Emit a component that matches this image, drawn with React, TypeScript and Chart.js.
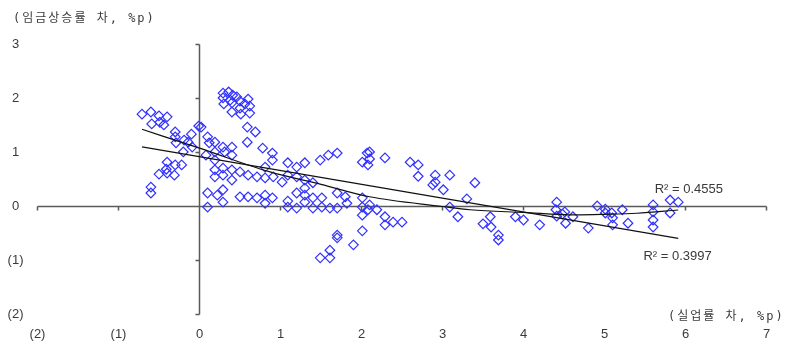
import React, { useEffect, useRef } from 'react';
import { Chart, registerables } from 'chart.js';

Chart.register(...registerables);

// Scatter: unemployment-rate gap (x, %p) vs wage-growth gap (y, %p)
const xValues = [
  -0.71, -0.6, -0.5, -0.4, -0.59, -0.49, -0.44, -0.3, -0.3, -0.19, -0.1, -0.01, -0.09, -0.29, -0.2, -0.4, -0.3, -0.22, -0.41, -0.5, -0.4, -0.31, -0.6, -0.6, -0.14,
  0.29, 0.36, 0.41, 0.29, 0.38, 0.46, 0.3, 0.4, 0.5, 0.56, 0.6, 0.62, 0.5, 0.4, 0.51, 0.62,
  0.02, 0.1, 0.19, 0.12, 0.29, 0.4, 0.19, 0.31, 0.4, 0.59, 0.69, 0.59, 0.78, 0.9, 0.9, 0.81, 0.19, 0.29, 0.19, 0.29, 0.4, 0.5, 0.6, 0.71, 0.81, 0.91, 0.4, 0.1, 0.22, 0.29, 0.29, 0.5, 0.6, 0.71, 0.81, 0.81, 0.9, 0.1, 0.19, 0.08,
  1.02, 1.09, 1.2, 1.3, 1.49, 1.59, 1.7, 1.09, 1.2, 1.3, 1.4, 1.3, 1.2, 1.09, 1.2, 1.3, 1.3, 1.4, 1.4, 1.51, 1.51, 1.61, 1.7, 1.7, 1.8, 1.82, 2.01, 2.07, 2.01, 2.01, 2.01, 2.08, 2.19, 1.7, 1.9, 1.61, 1.49, 1.61, 2.01, 1.7, 1.09,
  2.1, 2.1, 2.08, 2.29, 2.6, 2.7, 2.7, 2.91, 2.91, 3.01, 3.09, 3.4, 3.3, 2.29, 2.29, 2.39, 2.5, 3.09, 3.19, 2.1, 2.88,
  3.59, 3.5, 3.6, 3.69, 3.69, 3.9, 4.0, 4.2, 4.41, 4.4, 4.51, 4.41, 4.52, 4.61, 4.48,
  4.91, 5.01, 5.01, 5.09, 5.22, 5.1, 5.1, 4.8, 5.29, 5.6, 5.6, 5.6, 5.6, 5.81, 5.91, 5.81,
];
const yValues = [
  1.71, 1.75, 1.68, 1.66, 1.53, 1.56, 1.51, 1.38, 1.29, 1.23, 1.34, 1.49, 1.1, 1.18, 1.01, 0.82, 0.77, 0.77, 0.69, 0.6, 0.62, 0.58, 0.36, 0.25, 1.19,
  2.1, 2.12, 2.06, 2.01, 1.97, 2.03, 1.9, 1.92, 1.95, 1.9, 1.99, 1.86, 1.82, 1.75, 1.71, 1.73,
  1.47, 1.29, 1.19, 1.18, 1.1, 1.1, 1.01, 1.01, 0.95, 1.47, 1.38, 1.19, 1.08, 0.99, 0.86, 0.73, 0.68, 0.71, 0.55, 0.58, 0.68, 0.64, 0.58, 0.55, 0.53, 0.55, 0.49, 0.25, 0.21, 0.31, 0.08, 0.18, 0.18, 0.16, 0.21, 0.06, 0.16, -0.01, 0.86, 0.95,
  0.45, 0.81, 0.73, 0.81, 0.86, 0.95, 0.99, 0.58, 0.55, 0.49, 0.44, 0.34, 0.25, 0.1, -0.03, 0.21, 0.08, -0.03, 0.16, 0.16, -0.01, -0.03, -0.03, 0.25, 0.18, 0.06, 0.82, 0.99, 0.16, -0.01, -0.16, -0.06, -0.06, -0.53, -0.71, -0.81, -0.95, -0.95, -0.45, -0.58, -0.01,
  1.01, 0.88, 0.77, 0.9, 0.82, 0.77, 0.56, 0.58, 0.45, 0.31, 0.58, 0.44, 0.14, -0.19, -0.34, -0.29, -0.29, -0.01, -0.19, 0.03, 0.4,
  -0.19, -0.32, -0.38, -0.53, -0.62, -0.19, -0.25, -0.34, 0.08, -0.06, -0.1, -0.18, -0.31, -0.19, -0.14,
  0.01, -0.05, -0.12, -0.12, -0.06, -0.21, -0.34, -0.4, -0.31, 0.03, -0.1, -0.25, -0.38, 0.12, 0.08, -0.12,
];

// Trend lines
const linearTrendX = [-0.71, 5.91];
const linearTrendY = [1.105, -0.59];
const polyTrendX = [-0.71, 0, 0.87, 1.5, 2.1, 3.0, 3.34, 4.0, 4.64, 5.0, 5.4, 5.91];
const polyTrendY = [1.43, 1.08, 0.64, 0.41, 0.18, 0.0, -0.06, -0.11, -0.155, -0.145, -0.125, -0.065];

const xTicks = [-2, -1, 0, 1, 2, 3, 4, 5, 6, 7];
const xTickLabels = ['(2)', '(1)', '0', '1', '2', '3', '4', '5', '6', '7'];
const yTicks = [-2, -1, 0, 1, 2, 3];
const yTickLabels = ['(2)', '(1)', '0', '1', '2', '3'];

const yAxisTitle = '(임금상승률 차, %p)';
const xAxisTitle = '(실업률 차, %p)';
const r2Poly = 'R² = 0.4555';
const r2Linear = 'R² = 0.3997';

const TEXT = '#3a3a3a';
const AXIS = '#5a5a5a';

const overlayPlugin = {
  id: 'overlay',
  beforeDatasetsDraw(chart: any) {
    const { ctx, scales } = chart;
    const xs = scales.x;
    const ys = scales.y;
    const x0 = xs.getPixelForValue(0);
    const y0 = ys.getPixelForValue(0);
    ctx.save();
    ctx.strokeStyle = AXIS;
    ctx.lineWidth = 1.5;
    ctx.beginPath();
    ctx.moveTo(x0, ys.getPixelForValue(yTicks[yTicks.length - 1]));
    ctx.lineTo(x0, ys.getPixelForValue(yTicks[0]));
    ctx.moveTo(xs.getPixelForValue(xTicks[0]), y0);
    ctx.lineTo(xs.getPixelForValue(xTicks[xTicks.length - 1]), y0);
    for (const t of yTicks) {
      const py = ys.getPixelForValue(t);
      ctx.moveTo(x0 - 4, py);
      ctx.lineTo(x0, py);
    }
    for (const t of xTicks) {
      const px = xs.getPixelForValue(t);
      ctx.moveTo(px, y0);
      ctx.lineTo(px, y0 + 4);
    }
    ctx.stroke();
    ctx.restore();
  },
  afterDraw(chart: any) {
    const { ctx, scales } = chart;
    const xs = scales.x;
    const ys = scales.y;
    ctx.save();
    ctx.fillStyle = TEXT;
    ctx.textBaseline = 'middle';
    ctx.textAlign = 'left';
    ctx.font = "13px 'Liberation Sans', Arial, sans-serif";
    ctx.fillText(r2Poly, xs.getPixelForValue(5.62), ys.getPixelForValue(0.31));
    ctx.fillText(r2Linear, xs.getPixelForValue(5.48), ys.getPixelForValue(-0.93));
    ctx.font = "12px 'DejaVu Sans Mono', 'Noto Sans CJK KR', sans-serif";
    (ctx as any).letterSpacing = '2px';
    ctx.fillText(yAxisTitle, 13, 19);
    ctx.fillText(xAxisTitle, 668, 317);
    ctx.restore();
  },
};

export default function App() {
  const ref = useRef<HTMLCanvasElement | null>(null);

  useEffect(() => {
    document.body.style.margin = '0';
    const canvas = ref.current;
    if (!canvas) return;
    const points = xValues.map((x, i) => ({ x, y: yValues[i] }));
    const lin = linearTrendX.map((x, i) => ({ x, y: linearTrendY[i] }));
    const poly = polyTrendX.map((x, i) => ({ x, y: polyTrendY[i] }));
    const tickFont = { family: "'Liberation Sans', Arial, sans-serif", size: 13 };

    const chart = new Chart(canvas, {
      type: 'scatter',
      data: {
        datasets: [
          {
            label: 'data',
            data: points,
            pointStyle: 'rectRot',
            pointRadius: 4.8,
            pointBorderWidth: 1.2,
            borderColor: 'rgb(50,50,255)',
            pointBorderColor: 'rgb(50,50,255)',
            pointBackgroundColor: 'rgba(0,0,0,0)',
            backgroundColor: 'rgba(0,0,0,0)',
            order: 2,
          },
          {
            label: 'linear',
            data: lin,
            showLine: true,
            pointRadius: 0,
            borderColor: '#111',
            borderWidth: 1.2,
            order: 1,
          },
          {
            label: 'poly',
            data: poly,
            showLine: true,
            pointRadius: 0,
            borderColor: '#111',
            borderWidth: 1.2,
            cubicInterpolationMode: 'monotone',
            order: 1,
          },
        ],
      } as any,
      options: {
        responsive: false,
        animation: false,
        layout: { padding: { top: 44.5, right: 33.5, left: 0, bottom: 0 } },
        plugins: { legend: { display: false }, tooltip: { enabled: false } },
        scales: {
          x: {
            type: 'linear',
            position: 'bottom',
            min: -2,
            max: 7,
            grid: { display: false, drawTicks: false },
            border: { display: false },
            afterBuildTicks: (s: any) => { s.ticks = xTicks.map((v) => ({ value: v })); },
            afterFit: (s: any) => { s.height = 34.5; },
            ticks: {
              autoSkip: false,
              maxRotation: 0,
              padding: 12,
              color: TEXT,
              font: tickFont,
              callback: (v: any) => xTickLabels[xTicks.indexOf(Number(v))] ?? '',
            },
          },
          y: {
            type: 'linear',
            position: 'left',
            min: -2,
            max: 3,
            grid: { display: false, drawTicks: false },
            border: { display: false },
            afterBuildTicks: (s: any) => { s.ticks = yTicks.map((v) => ({ value: v })); },
            afterFit: (s: any) => { s.width = 37.5; },
            ticks: {
              autoSkip: false,
              crossAlign: 'center',
              padding: 14,
              color: TEXT,
              font: tickFont,
              callback: (v: any) => yTickLabels[yTicks.indexOf(Number(v))] ?? '',
            },
          },
        },
      } as any,
      plugins: [overlayPlugin],
    });
    return () => chart.destroy();
  }, []);

  return (
    <div style={{ width: 800, height: 349 }}>
      <canvas ref={ref} width={800} height={349} style={{ display: 'block' }} />
    </div>
  );
}
